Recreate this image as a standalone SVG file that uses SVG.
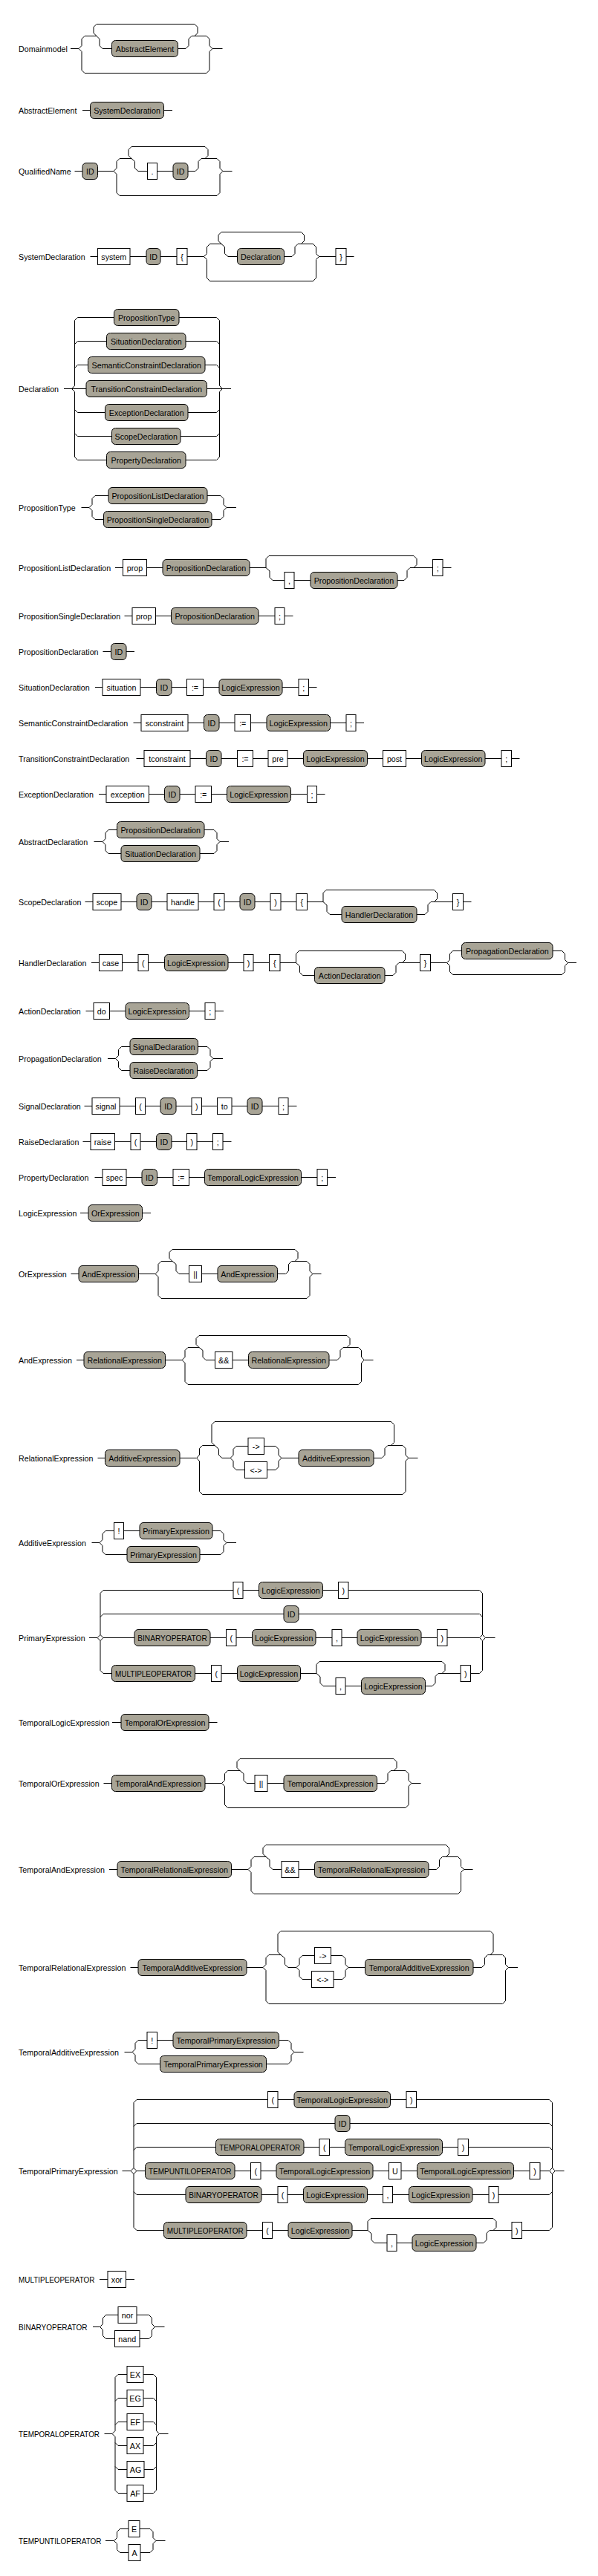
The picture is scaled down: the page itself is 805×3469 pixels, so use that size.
<svg xmlns="http://www.w3.org/2000/svg" width="805" height="3469" viewBox="0 0 805 3469">
<style>
#connectors path{fill:none;stroke:#000;stroke-width:1}
.r{fill:#a8a496;stroke:#000;stroke-width:1}
.t{fill:#fff;stroke:#000;stroke-width:1}
text{font-family:"Liberation Sans",Arial,sans-serif;font-size:10.7px;fill:#000;text-anchor:middle}
text.l{text-anchor:start}
</style>
<rect x="0" y="0" width="805" height="3469" fill="#fff"/>
<g id="connectors">
<path id="c-Domainmodel" d="M95,65.5H106 M106,65.5L110,61.5V52.5L114,48.5H130 M106,65.5L110,69.5V94.5L114,98.5H278L282,94.5V69.5L286,65.5H299.5 M262,48.5H278L282,52.5V61.5L286,65.5 M130,48.5L126,44.5V36.5L130,32.5H262L266,36.5V44.5L262,48.5 M130,48.5L134,52.5V61.5L138,65.5H150.5 M239.5,65.5H250L254,61.5V52.5L258,48.5H262"/>
<path id="c-AbstractElement" d="M111,148.5H121.5 M220.5,148.5H232"/>
<path id="c-QualifiedName" d="M100.5,230.5H111 M131.5,230.5H153 M153,230.5L157,226.5V217.5L161,213.5H177 M153,230.5L157,234.5V259.5L161,263.5H292L296,259.5V234.5L300,230.5H312.5 M271,213.5H292L296,217.5V226.5L300,230.5 M177,213.5L173,209.5V201.5L177,197.5H276L280,201.5V209.5L276,213.5 M177,213.5L181.5,217.5V226.5L186,230.5H198.5 M211.5,230.5H233 M253,230.5H263L267,226.5V217.5L271,213.5"/>
<path id="c-SystemDeclaration" d="M121.5,345.5H131.5 M175,345.5H197 M216,345.5H238 M252,345.5H274.5 M274.5,345.5L278.5,341.5V332.5L282.5,328.5H298 M274.5,345.5L278.5,349.5V374.5L282.5,378.5H421.5L425.5,374.5V349.5L429.5,345.5H452 M401,328.5H421.5L425.5,332.5V341.5L429.5,345.5 M298,328.5L294,324.5V316.5L298,312.5H405.5L409.5,316.5V324.5L405.5,328.5 M298,328.5L302.5,332.5V341.5L307,345.5H319.5 M382.5,345.5H393L397,341.5V332.5L401,328.5 M466,345.5H476.5"/>
<path id="c-Declaration" d="M86,523.5H116 M96.5,523.5L100.5,519.5V431.5L104.5,427.5H153.5 M100.5,463.5L104.5,459.5H143.5 M100.5,495.5L104.5,491.5H118.5 M96.5,523.5L100.5,527.5V615.5L104.5,619.5H143.5 M100.5,551.5L104.5,555.5H141.5 M100.5,583.5L104.5,587.5H150.5 M241,427.5H291.5L295.5,431.5V519.5L299.5,523.5 M250,459.5H291.5L295.5,463.5 M276,491.5H291.5L295.5,495.5 M278.5,523.5H311 M253,555.5H291.5L295.5,551.5 M243,587.5H291.5L295.5,583.5 M250,619.5H291.5L295.5,615.5V527.5L299.5,523.5"/>
<path id="c-PropositionType" d="M109.5,683.5H120 M120,683.5L124,679.5V671.5L128,667.5H146 M279,667.5H297L301,671.5V679.5L305,683.5H318 M120,683.5L124,687.5V695.5L128,699.5H139.5 M285,699.5H297L301,695.5V687.5L305,683.5"/>
<path id="c-PropositionListDeclaration" d="M155,764.5H165.5 M197.5,764.5H219 M336,764.5H358 M358,764.5V752.5L362,748.5H557L561,752.5V760.5L557,764.5 M358,764.5L363,769V777.5L367,781.5H383 M396,781.5H418 M535,781.5H544L548,777.5V768.5L552,764.5H582.5 M596,764.5H607.5"/>
<path id="c-PropositionSingleDeclaration" d="M167.5,829.5H178 M209.5,829.5H230.5 M348,829.5H370 M383,829.5H394.5"/>
<path id="c-PropositionDeclaration" d="M138.5,877.5H149.5 M170,877.5H181"/>
<path id="c-SituationDeclaration" d="M128,925.5H138 M189,925.5H210.5 M231,925.5H251.5 M273.5,925.5H295 M380,925.5H402 M415.5,925.5H426.5"/>
<path id="c-SemanticConstraintDeclaration" d="M179.5,973.5H190 M253,973.5H274.5 M295,973.5H316 M337.5,973.5H359 M444.5,973.5H466 M479,973.5H490"/>
<path id="c-TransitionConstraintDeclaration" d="M183.5,1021.5H194 M256,1021.5H277.5 M298,1021.5H319.5 M340.5,1021.5H361 M387,1021.5H408.5 M494.5,1021.5H515.5 M546.5,1021.5H567.5 M653,1021.5H675 M688.5,1021.5H699.5"/>
<path id="c-ExceptionDeclaration" d="M133,1069.5H143 M200.5,1069.5H221.5 M242,1069.5H263 M284.5,1069.5H305.5 M391.5,1069.5H413.5 M426.5,1069.5H437.5"/>
<path id="c-AbstractDeclaration" d="M126.5,1133.5H138 M138,1133.5L142,1129.5V1121.5L146,1117.5H157.5 M275,1117.5H288L292,1121.5V1129.5L296,1133.5H308 M138,1133.5L142,1137.5V1145.5L146,1149.5H163 M269,1149.5H288L292,1145.5V1137.5L296,1133.5"/>
<path id="c-ScopeDeclaration" d="M114.5,1214.5H125 M163,1214.5H184 M204,1214.5H225 M267,1214.5H288 M302,1214.5H323 M343,1214.5H364 M378,1214.5H399 M413.5,1214.5H435 M435,1214.5V1202.5L439,1198.5H584.5L588.5,1202.5V1210.5L584.5,1214.5 M435,1214.5L440,1219V1227.5L444,1231.5H460 M561,1231.5H572L576,1227.5V1218.5L580,1214.5H609.5 M623.5,1214.5H634.5"/>
<path id="c-HandlerDeclaration" d="M123,1296.5H133.5 M164.5,1296.5H186 M199.5,1296.5H221.5 M307,1296.5H328 M341,1296.5H362.5 M377,1296.5H398.5 M398.5,1296.5V1284.5L402.5,1280.5H541.5L545.5,1284.5V1292.5L541.5,1296.5 M398.5,1296.5L403.5,1301V1309.5L407.5,1313.5H423.5 M518,1313.5H529L533,1309.5V1300.5L537,1296.5H565.5 M579.5,1296.5H601.5 M601.5,1296.5L605.5,1292.5V1284.5L609.5,1280.5H621.5 M744,1280.5H756.5L760.5,1284.5V1292.5L764.5,1296.5H776 M601.5,1296.5L605.5,1300.5V1308.5L609.5,1312.5H756.5L760.5,1308.5V1300.5L764.5,1296.5"/>
<path id="c-ActionDeclaration" d="M115.5,1361.5H126 M147.5,1361.5H169 M254.5,1361.5H276 M289.5,1361.5H301"/>
<path id="c-PropagationDeclaration" d="M145,1425.5H155.5 M155.5,1425.5L159.5,1421.5V1413.5L163.5,1409.5H175 M266.5,1409.5H279L283,1413.5V1421.5L287,1425.5H300 M155.5,1425.5L159.5,1429.5V1437.5L163.5,1441.5H175 M265.5,1441.5H279L283,1437.5V1429.5L287,1425.5"/>
<path id="c-SignalDeclaration" d="M113.5,1489.5H124 M161,1489.5H182.5 M195.5,1489.5H216 M237,1489.5H258 M271.5,1489.5H292.5 M312,1489.5H333 M353,1489.5H375 M388,1489.5H399.5"/>
<path id="c-RaiseDeclaration" d="M111.5,1537.5H122 M154.5,1537.5H176 M189,1537.5H210.5 M231,1537.5H251.5 M265,1537.5H286.5 M300,1537.5H311.5"/>
<path id="c-PropertyDeclaration" d="M127.5,1585.5H138 M170,1585.5H191 M211.5,1585.5H233 M254.5,1585.5H275.5 M405.5,1585.5H427 M440.5,1585.5H452"/>
<path id="c-LogicExpression" d="M108,1633.5H119 M191.5,1633.5H203"/>
<path id="c-OrExpression" d="M95.5,1715.5H106 M186.5,1715.5H209 M209,1715.5L213,1711.5V1702.5L217,1698.5H232 M209,1715.5L213,1719.5V1744.5L217,1748.5H413L417,1744.5V1719.5L421,1715.5H432.5 M392.5,1698.5H413L417,1702.5V1711.5L421,1715.5 M232,1698.5L228,1694.5V1686.5L232,1682.5H397L401,1686.5V1694.5L397,1698.5 M232,1698.5L237,1702.5V1711.5L241,1715.5H254.5 M271.5,1715.5H293 M373.5,1715.5H384.5L388.5,1711.5V1702.5L392.5,1698.5"/>
<path id="c-AndExpression" d="M103,1831.5H113 M222.5,1831.5H245 M245,1831.5L249,1827.5V1818.5L253,1814.5H268 M245,1831.5L249,1835.5V1860.5L253,1864.5H482.5L486.5,1860.5V1835.5L490.5,1831.5H502.5 M462,1814.5H482.5L486.5,1818.5V1827.5L490.5,1831.5 M268,1814.5L264,1810.5V1802.5L268,1798.5H467L471,1802.5V1810.5L467,1814.5 M268,1814.5L273,1818.5V1827.5L277,1831.5H289.5 M313,1831.5H334.5 M443,1831.5H454L458,1827.5V1818.5L462,1814.5"/>
<path id="c-RelationalExpression" d="M131.5,1963.5H141.5 M242,1963.5H264.5 M264.5,1963.5L268.5,1959.5V1950.5L272.5,1946.5H289 M264.5,1963.5L268.5,1967.5V2008.5L272.5,2012.5H542L546,2008.5V1967.5L550,1963.5H562.5 M522,1946.5H542L546,1950.5V1959.5L550,1963.5 M289,1946.5L285,1942.5V1918.5L289,1914.5H526.5L530.5,1918.5V1942.5L526.5,1946.5 M289,1946.5L294.5,1951.5V1959.5L299,1963.5H310 M310,1963.5L314,1959.5V1951.5L318,1947.5H334 M355.5,1947.5H371L375,1951.5V1959.5L379,1963.5 M310,1963.5L314,1967.5V1975.5L318,1979.5H329.5 M359.5,1979.5H371L375,1975.5V1967.5L379,1963.5 M379,1963.5H402 M503,1963.5H514L518,1959.5V1950.5L522,1946.5"/>
<path id="c-AdditiveExpression" d="M123.5,2077.5H134 M134,2077.5L138,2073.5V2065.5L142,2061.5H153.5 M166.5,2061.5H188 M286,2061.5H297L301,2065.5V2073.5L305,2077.5H318 M134,2077.5L138,2081.5V2089.5L142,2093.5H171 M269,2093.5H297L301,2089.5V2081.5L305,2077.5"/>
<path id="c-PrimaryExpression" d="M120,2205.5H131 M131,2205.5L135,2201.5V2145.5L139,2141.5H314 M135,2177.5L139,2173.5H382 M135,2201.5L139,2205.5L135,2209.5 M131,2205.5L135,2209.5V2249.5L139,2253.5H150.5 M139,2205.5H181 M469,2141.5H645.5L649.5,2145.5V2201.5L653.5,2205.5 M402,2173.5H645.5L649.5,2177.5 M602,2205.5H645.5 M649.5,2201.5L645.5,2205.5L649.5,2209.5 M633.5,2253.5H645.5L649.5,2249.5V2209.5L653.5,2205.5H666.5 M327,2141.5H348.5 M434.5,2141.5H455.5 M283,2205.5H304.5 M318,2205.5H339.5 M425,2205.5H447 M460,2205.5H481 M567,2205.5H588.5 M262.5,2253.5H284.5 M298,2253.5H319.5 M404.5,2253.5H426 M426,2253.5V2241.5L430,2237.5H595L599,2241.5V2249.5L595,2253.5 M426,2253.5L431,2258V2266.5L435,2270.5H452 M465,2270.5H486.5 M572.5,2270.5H582L586,2266.5V2257.5L590,2253.5H620"/>
<path id="c-TemporalLogicExpression" d="M151,2319.5H163 M281,2319.5H292.5"/>
<path id="c-TemporalOrExpression" d="M139.5,2401.5H150.5 M276,2401.5H298.5 M298.5,2401.5L302.5,2397.5V2388.5L306.5,2384.5H323 M298.5,2401.5L302.5,2405.5V2430.5L306.5,2434.5H546L550,2430.5V2405.5L554,2401.5H566.5 M526,2384.5H546L550,2388.5V2397.5L554,2401.5 M323,2384.5L319,2380.5V2372.5L323,2368.5H530L534,2372.5V2380.5L530,2384.5 M323,2384.5L328,2388.5V2397.5L332,2401.5H343 M360,2401.5H382 M507.5,2401.5H518L522,2397.5V2388.5L526,2384.5"/>
<path id="c-TemporalAndExpression" d="M147,2517.5H158 M311.5,2517.5H334 M334,2517.5L338,2513.5V2504.5L342,2500.5H358 M334,2517.5L338,2521.5V2546.5L342,2550.5H616.5L620.5,2546.5V2521.5L624.5,2517.5H636.5 M595.5,2500.5H616.5L620.5,2504.5V2513.5L624.5,2517.5 M358,2500.5L354,2496.5V2488.5L358,2484.5H600.5L604.5,2488.5V2496.5L600.5,2500.5 M358,2500.5L363,2504.5V2513.5L367,2517.5H379 M402,2517.5H423.5 M577,2517.5H587.5L591.5,2513.5V2504.5L595.5,2500.5"/>
<path id="c-TemporalRelationalExpression" d="M175.5,2649.5H186 M332,2649.5H354 M354,2649.5L358,2645.5V2636.5L362,2632.5H378 M354,2649.5L358,2653.5V2694.5L362,2698.5H676.5L680.5,2694.5V2653.5L684.5,2649.5H697 M656.5,2632.5H676.5L680.5,2636.5V2645.5L684.5,2649.5 M378,2632.5L374,2628.5V2604.5L378,2600.5H660L664,2604.5V2628.5L660,2632.5 M378,2632.5L383.5,2637V2645.5L388,2649.5H399 M399,2649.5L403,2645.5V2637.5L407,2633.5H423.5 M445.5,2633.5H461L465,2637.5V2645.5L469,2649.5 M399,2649.5L403,2653.5V2661.5L407,2665.5H419.5 M449,2665.5H461L465,2661.5V2653.5L469,2649.5 M469,2649.5H491.5 M637,2649.5H648.5L652.5,2645.5V2636.5L656.5,2632.5"/>
<path id="c-TemporalAdditiveExpression" d="M167.5,2763.5H178 M178,2763.5L182,2759.5V2751.5L186,2747.5H198 M211.5,2747.5H233 M375.5,2747.5H388L392,2751.5V2759.5L396,2763.5H408.5 M178,2763.5L182,2767.5V2775.5L186,2779.5H215.5 M358.5,2779.5H388L392,2775.5V2767.5L396,2763.5"/>
<path id="c-TemporalPrimaryExpression" d="M164.5,2923.5H176 M176,2923.5L180,2919.5V2831.5L184,2827.5H360.5 M180,2863.5L184,2859.5H451 M180,2895.5L184,2891.5H290.5 M180,2919.5L184,2923.5L180,2927.5 M184,2923.5H195.5 M176,2923.5L180,2927.5V2999.5L184,3003.5H220.5 M180,2951.5L184,2955.5H250 M560.5,2827.5H739.5L743.5,2831.5V2919.5L747.5,2923.5 M471,2859.5H739.5L743.5,2863.5 M630.5,2891.5H739.5L743.5,2895.5 M743.5,2919.5L739.5,2923.5L743.5,2927.5 M727,2923.5H739.5 M702.5,3003.5H739.5L743.5,2999.5V2927.5L747.5,2923.5H759.5 M671,2955.5H739.5L743.5,2951.5 M374,2827.5H396 M525.5,2827.5H547 M409,2891.5H430 M443.5,2891.5H464.5 M595.5,2891.5H616.5 M316,2923.5H337.5 M351,2923.5H372 M502,2923.5H523.5 M540,2923.5H561.5 M691.5,2923.5H713 M352,2955.5H374 M387,2955.5H408.5 M494.5,2955.5H515.5 M528.5,2955.5H550.5 M636,2955.5H658 M332,3003.5H353.5 M366.5,3003.5H388 M474,3003.5H495 M495,3003.5V2991.5L499,2987.5H664L668,2991.5V2999.5L664,3003.5 M495,3003.5L500,3008V3016.5L504,3020.5H521 M534,3020.5H555 M641,3020.5H651L655,3016.5V3007.5L659,3003.5H689"/>
<path id="c-MULTIPLEOPERATOR" d="M134,3069.5H145 M169.5,3069.5H181"/>
<path id="c-BINARYOPERATOR" d="M125,3133.5H134.5 M134.5,3133.5L138.5,3129.5V3121.5L142.5,3117.5H159 M184,3117.5H200.5L204.5,3121.5V3129.5L208.5,3133.5H221.5 M134.5,3133.5L138.5,3137.5V3145.5L142.5,3149.5H154.5 M188,3149.5H200.5L204.5,3145.5V3137.5L208.5,3133.5"/>
<path id="c-TEMPORALOPERATOR" d="M140.5,3277.5H151 M151,3277.5L155,3273.5V3201.5L159,3197.5H171 M155,3233.5L159,3229.5H171 M155,3265.5L159,3261.5H171 M151,3277.5L155,3281.5V3353.5L159,3357.5H171 M155,3289.5L159,3293.5H171 M155,3321.5L159,3325.5H171 M193,3197.5H206.5L210.5,3201.5V3273.5L214.5,3277.5H226.5 M193,3229.5H206.5L210.5,3233.5 M193,3261.5H206.5L210.5,3265.5 M193,3357.5H206.5L210.5,3353.5V3281.5L214.5,3277.5 M193,3293.5H206.5L210.5,3289.5 M194,3325.5H206.5L210.5,3321.5"/>
<path id="c-TEMPUNTILOPERATOR" d="M142,3421.5H153.5 M153.5,3421.5L157.5,3417.5V3409.5L161.5,3405.5H173 M188,3405.5H202L206,3409.5V3417.5L210,3421.5H222.5 M153.5,3421.5L157.5,3425.5V3433.5L161.5,3437.5H173 M189,3437.5H202L206,3433.5V3425.5L210,3421.5"/>
</g>

<g id="Domainmodel"><text class="l" x="25" y="69.5">Domainmodel</text>
<g id="dm-1"><rect class="r" x="150.5" y="54.5" width="89" height="22" rx="5"/><text x="195" y="69.5">AbstractElement</text></g></g>

<g id="AbstractElement"><text class="l" x="25" y="152.5">AbstractElement</text>
<g id="ae-1"><rect class="r" x="121.5" y="137.5" width="99" height="22" rx="5"/><text x="171" y="152.5">SystemDeclaration</text></g></g>

<g id="QualifiedName"><text class="l" x="25" y="234.5">QualifiedName</text>
<g id="qn-1"><rect class="r" x="111" y="219.5" width="20.5" height="22" rx="5"/><text x="121.25" y="234.5">ID</text></g>
<g id="qn-2"><rect class="t" x="198.5" y="219.5" width="13" height="22"/><text x="205" y="234.5">.</text></g>
<g id="qn-3"><rect class="r" x="233" y="219.5" width="20" height="22" rx="5"/><text x="243" y="234.5">ID</text></g></g>

<g id="SystemDeclaration"><text class="l" x="25" y="349.5">SystemDeclaration</text>
<g id="sd-1"><rect class="t" x="131.5" y="334.5" width="43.5" height="22"/><text x="153.25" y="349.5">system</text></g>
<g id="sd-2"><rect class="r" x="197" y="334.5" width="19" height="22" rx="5"/><text x="206.5" y="349.5">ID</text></g>
<g id="sd-3"><rect class="t" x="238" y="334.5" width="14" height="22"/><text x="245" y="349.5">{</text></g>
<g id="sd-4"><rect class="r" x="319.5" y="334.5" width="63" height="22" rx="5"/><text x="351" y="349.5">Declaration</text></g>
<g id="sd-5"><rect class="t" x="452" y="334.5" width="14" height="22"/><text x="459" y="349.5">}</text></g></g>

<g id="Declaration"><text class="l" x="25" y="527.5">Declaration</text>
<g id="de-1"><rect class="r" x="153.5" y="416.5" width="87.5" height="22" rx="5"/><text x="197.25" y="431.5">PropositionType</text></g>
<g id="de-2"><rect class="r" x="143.5" y="448.5" width="106.5" height="22" rx="5"/><text x="196.75" y="463.5">SituationDeclaration</text></g>
<g id="de-3"><rect class="r" x="118.5" y="480.5" width="157.5" height="22" rx="5"/><text x="197.25" y="495.5">SemanticConstraintDeclaration</text></g>
<g id="de-4"><rect class="r" x="116" y="512.5" width="162.5" height="22" rx="5"/><text x="197.25" y="527.5">TransitionConstraintDeclaration</text></g>
<g id="de-5"><rect class="r" x="141.5" y="544.5" width="111.5" height="22" rx="5"/><text x="197.25" y="559.5">ExceptionDeclaration</text></g>
<g id="de-6"><rect class="r" x="150.5" y="576.5" width="92.5" height="22" rx="5"/><text x="196.75" y="591.5">ScopeDeclaration</text></g>
<g id="de-7"><rect class="r" x="143.5" y="608.5" width="106.5" height="22" rx="5"/><text x="196.75" y="623.5">PropertyDeclaration</text></g></g>

<g id="PropositionType"><text class="l" x="25" y="687.5">PropositionType</text>
<g id="pt-1"><rect class="r" x="146" y="656.5" width="133" height="22" rx="5"/><text x="212.5" y="671.5">PropositionListDeclaration</text></g>
<g id="pt-2"><rect class="r" x="139.5" y="688.5" width="145.5" height="22" rx="5"/><text x="212.25" y="703.5">PropositionSingleDeclaration</text></g></g>

<g id="PropositionListDeclaration"><text class="l" x="25" y="768.5">PropositionListDeclaration</text>
<g id="pl-1"><rect class="t" x="165.5" y="753.5" width="32" height="22"/><text x="181.5" y="768.5">prop</text></g>
<g id="pl-2"><rect class="r" x="219" y="753.5" width="117" height="22" rx="5"/><text x="277.5" y="768.5">PropositionDeclaration</text></g>
<g id="pl-3"><rect class="t" x="383" y="770.5" width="13" height="22"/><text x="389.5" y="785.5">,</text></g>
<g id="pl-4"><rect class="r" x="418" y="770.5" width="117" height="22" rx="5"/><text x="476.5" y="785.5">PropositionDeclaration</text></g>
<g id="pl-5"><rect class="t" x="582.5" y="753.5" width="13.5" height="22"/><text x="589.25" y="768.5">;</text></g></g>

<g id="PropositionSingleDeclaration"><text class="l" x="25" y="833.5">PropositionSingleDeclaration</text>
<g id="ps-1"><rect class="t" x="178" y="818.5" width="31.5" height="22"/><text x="193.75" y="833.5">prop</text></g>
<g id="ps-2"><rect class="r" x="230.5" y="818.5" width="117.5" height="22" rx="5"/><text x="289.25" y="833.5">PropositionDeclaration</text></g>
<g id="ps-3"><rect class="t" x="370" y="818.5" width="13" height="22"/><text x="376.5" y="833.5">;</text></g></g>

<g id="PropositionDeclaration"><text class="l" x="25" y="881.5">PropositionDeclaration</text>
<g id="pd-1"><rect class="r" x="149.5" y="866.5" width="20.5" height="22" rx="5"/><text x="159.75" y="881.5">ID</text></g></g>

<g id="SituationDeclaration"><text class="l" x="25" y="929.5">SituationDeclaration</text>
<g id="si-1"><rect class="t" x="138" y="914.5" width="51" height="22"/><text x="163.5" y="929.5">situation</text></g>
<g id="si-2"><rect class="r" x="210.5" y="914.5" width="20.5" height="22" rx="5"/><text x="220.75" y="929.5">ID</text></g>
<g id="si-3"><rect class="t" x="251.5" y="914.5" width="22" height="22"/><text x="262.5" y="929.5">:=</text></g>
<g id="si-4"><rect class="r" x="295" y="914.5" width="85" height="22" rx="5"/><text x="337.5" y="929.5">LogicExpression</text></g>
<g id="si-5"><rect class="t" x="402" y="914.5" width="13.5" height="22"/><text x="408.75" y="929.5">;</text></g></g>

<g id="SemanticConstraintDeclaration"><text class="l" x="25" y="977.5">SemanticConstraintDeclaration</text>
<g id="sc-1"><rect class="t" x="190" y="962.5" width="63" height="22"/><text x="221.5" y="977.5">sconstraint</text></g>
<g id="sc-2"><rect class="r" x="274.5" y="962.5" width="20.5" height="22" rx="5"/><text x="284.75" y="977.5">ID</text></g>
<g id="sc-3"><rect class="t" x="316" y="962.5" width="21.5" height="22"/><text x="326.75" y="977.5">:=</text></g>
<g id="sc-4"><rect class="r" x="359" y="962.5" width="85.5" height="22" rx="5"/><text x="401.75" y="977.5">LogicExpression</text></g>
<g id="sc-5"><rect class="t" x="466" y="962.5" width="13" height="22"/><text x="472.5" y="977.5">;</text></g></g>

<g id="TransitionConstraintDeclaration"><text class="l" x="25" y="1025.5">TransitionConstraintDeclaration</text>
<g id="tc-1"><rect class="t" x="194" y="1010.5" width="62" height="22"/><text x="225" y="1025.5">tconstraint</text></g>
<g id="tc-2"><rect class="r" x="277.5" y="1010.5" width="20.5" height="22" rx="5"/><text x="287.75" y="1025.5">ID</text></g>
<g id="tc-3"><rect class="t" x="319.5" y="1010.5" width="21" height="22"/><text x="330" y="1025.5">:=</text></g>
<g id="tc-4"><rect class="t" x="361" y="1010.5" width="26" height="22"/><text x="374" y="1025.5">pre</text></g>
<g id="tc-5"><rect class="r" x="408.5" y="1010.5" width="86" height="22" rx="5"/><text x="451.5" y="1025.5">LogicExpression</text></g>
<g id="tc-6"><rect class="t" x="515.5" y="1010.5" width="31" height="22"/><text x="531" y="1025.5">post</text></g>
<g id="tc-7"><rect class="r" x="567.5" y="1010.5" width="85.5" height="22" rx="5"/><text x="610.25" y="1025.5">LogicExpression</text></g>
<g id="tc-8"><rect class="t" x="675" y="1010.5" width="13.5" height="22"/><text x="681.75" y="1025.5">;</text></g></g>

<g id="ExceptionDeclaration"><text class="l" x="25" y="1073.5">ExceptionDeclaration</text>
<g id="ex-1"><rect class="t" x="143" y="1058.5" width="57.5" height="22"/><text x="171.75" y="1073.5">exception</text></g>
<g id="ex-2"><rect class="r" x="221.5" y="1058.5" width="20.5" height="22" rx="5"/><text x="231.75" y="1073.5">ID</text></g>
<g id="ex-3"><rect class="t" x="263" y="1058.5" width="21.5" height="22"/><text x="273.75" y="1073.5">:=</text></g>
<g id="ex-4"><rect class="r" x="305.5" y="1058.5" width="86" height="22" rx="5"/><text x="348.5" y="1073.5">LogicExpression</text></g>
<g id="ex-5"><rect class="t" x="413.5" y="1058.5" width="13" height="22"/><text x="420" y="1073.5">;</text></g></g>

<g id="AbstractDeclaration"><text class="l" x="25" y="1137.5">AbstractDeclaration</text>
<g id="ad-1"><rect class="r" x="157.5" y="1106.5" width="117.5" height="22" rx="5"/><text x="216.25" y="1121.5">PropositionDeclaration</text></g>
<g id="ad-2"><rect class="r" x="163" y="1138.5" width="106" height="22" rx="5"/><text x="216" y="1153.5">SituationDeclaration</text></g></g>

<g id="ScopeDeclaration"><text class="l" x="25" y="1218.5">ScopeDeclaration</text>
<g id="sp-1"><rect class="t" x="125" y="1203.5" width="38" height="22"/><text x="144" y="1218.5">scope</text></g>
<g id="sp-2"><rect class="r" x="184" y="1203.5" width="20" height="22" rx="5"/><text x="194" y="1218.5">ID</text></g>
<g id="sp-3"><rect class="t" x="225" y="1203.5" width="42" height="22"/><text x="246" y="1218.5">handle</text></g>
<g id="sp-4"><rect class="t" x="288" y="1203.5" width="14" height="22"/><text x="295" y="1218.5">(</text></g>
<g id="sp-5"><rect class="r" x="323" y="1203.5" width="20" height="22" rx="5"/><text x="333" y="1218.5">ID</text></g>
<g id="sp-6"><rect class="t" x="364" y="1203.5" width="14" height="22"/><text x="371" y="1218.5">)</text></g>
<g id="sp-7"><rect class="t" x="399" y="1203.5" width="14.5" height="22"/><text x="406.25" y="1218.5">{</text></g>
<g id="sp-8"><rect class="r" x="460" y="1220.5" width="101" height="22" rx="5"/><text x="510.5" y="1235.5">HandlerDeclaration</text></g>
<g id="sp-9"><rect class="t" x="609.5" y="1203.5" width="14" height="22"/><text x="616.5" y="1218.5">}</text></g></g>

<g id="HandlerDeclaration"><text class="l" x="25" y="1300.5">HandlerDeclaration</text>
<g id="hd-1"><rect class="t" x="133.5" y="1285.5" width="31" height="22"/><text x="149" y="1300.5">case</text></g>
<g id="hd-2"><rect class="t" x="186" y="1285.5" width="13.5" height="22"/><text x="192.75" y="1300.5">(</text></g>
<g id="hd-3"><rect class="r" x="221.5" y="1285.5" width="85.5" height="22" rx="5"/><text x="264.25" y="1300.5">LogicExpression</text></g>
<g id="hd-4"><rect class="t" x="328" y="1285.5" width="13" height="22"/><text x="334.5" y="1300.5">)</text></g>
<g id="hd-5"><rect class="t" x="362.5" y="1285.5" width="14.5" height="22"/><text x="369.75" y="1300.5">{</text></g>
<g id="hd-6"><rect class="r" x="423.5" y="1302.5" width="94.5" height="22" rx="5"/><text x="470.75" y="1317.5">ActionDeclaration</text></g>
<g id="hd-7"><rect class="t" x="565.5" y="1285.5" width="14" height="22"/><text x="572.5" y="1300.5">}</text></g>
<g id="hd-8"><rect class="r" x="621.5" y="1269.5" width="122.5" height="22" rx="5"/><text x="682.75" y="1284.5">PropagationDeclaration</text></g></g>

<g id="ActionDeclaration"><text class="l" x="25" y="1365.5">ActionDeclaration</text>
<g id="ac-1"><rect class="t" x="126" y="1350.5" width="21.5" height="22"/><text x="136.75" y="1365.5">do</text></g>
<g id="ac-2"><rect class="r" x="169" y="1350.5" width="85.5" height="22" rx="5"/><text x="211.75" y="1365.5">LogicExpression</text></g>
<g id="ac-3"><rect class="t" x="276" y="1350.5" width="13.5" height="22"/><text x="282.75" y="1365.5">;</text></g></g>

<g id="PropagationDeclaration"><text class="l" x="25" y="1429.5">PropagationDeclaration</text>
<g id="pg-1"><rect class="r" x="175" y="1398.5" width="91.5" height="22" rx="5"/><text x="220.75" y="1413.5">SignalDeclaration</text></g>
<g id="pg-2"><rect class="r" x="175" y="1430.5" width="90.5" height="22" rx="5"/><text x="220.25" y="1445.5">RaiseDeclaration</text></g></g>

<g id="SignalDeclaration"><text class="l" x="25" y="1493.5">SignalDeclaration</text>
<g id="sg-1"><rect class="t" x="124" y="1478.5" width="37" height="22"/><text x="142.5" y="1493.5">signal</text></g>
<g id="sg-2"><rect class="t" x="182.5" y="1478.5" width="13" height="22"/><text x="189" y="1493.5">(</text></g>
<g id="sg-3"><rect class="r" x="216" y="1478.5" width="21" height="22" rx="5"/><text x="226.5" y="1493.5">ID</text></g>
<g id="sg-4"><rect class="t" x="258" y="1478.5" width="13.5" height="22"/><text x="264.75" y="1493.5">)</text></g>
<g id="sg-5"><rect class="t" x="292.5" y="1478.5" width="19.5" height="22"/><text x="302.25" y="1493.5">to</text></g>
<g id="sg-6"><rect class="r" x="333" y="1478.5" width="20" height="22" rx="5"/><text x="343" y="1493.5">ID</text></g>
<g id="sg-7"><rect class="t" x="375" y="1478.5" width="13" height="22"/><text x="381.5" y="1493.5">;</text></g></g>

<g id="RaiseDeclaration"><text class="l" x="25" y="1541.5">RaiseDeclaration</text>
<g id="rd-1"><rect class="t" x="122" y="1526.5" width="32.5" height="22"/><text x="138.25" y="1541.5">raise</text></g>
<g id="rd-2"><rect class="t" x="176" y="1526.5" width="13" height="22"/><text x="182.5" y="1541.5">(</text></g>
<g id="rd-3"><rect class="r" x="210.5" y="1526.5" width="20.5" height="22" rx="5"/><text x="220.75" y="1541.5">ID</text></g>
<g id="rd-4"><rect class="t" x="251.5" y="1526.5" width="13.5" height="22"/><text x="258.25" y="1541.5">)</text></g>
<g id="rd-5"><rect class="t" x="286.5" y="1526.5" width="13.5" height="22"/><text x="293.25" y="1541.5">;</text></g></g>

<g id="PropertyDeclaration"><text class="l" x="25" y="1589.5">PropertyDeclaration</text>
<g id="pr-1"><rect class="t" x="138" y="1574.5" width="32" height="22"/><text x="154" y="1589.5">spec</text></g>
<g id="pr-2"><rect class="r" x="191" y="1574.5" width="20.5" height="22" rx="5"/><text x="201.25" y="1589.5">ID</text></g>
<g id="pr-3"><rect class="t" x="233" y="1574.5" width="21.5" height="22"/><text x="243.75" y="1589.5">:=</text></g>
<g id="pr-4"><rect class="r" x="275.5" y="1574.5" width="130" height="22" rx="5"/><text x="340.5" y="1589.5">TemporalLogicExpression</text></g>
<g id="pr-5"><rect class="t" x="427" y="1574.5" width="13.5" height="22"/><text x="433.75" y="1589.5">;</text></g></g>

<g id="LogicExpression"><text class="l" x="25" y="1637.5">LogicExpression</text>
<g id="le-1"><rect class="r" x="119" y="1622.5" width="72.5" height="22" rx="5"/><text x="155.25" y="1637.5">OrExpression</text></g></g>

<g id="OrExpression"><text class="l" x="25" y="1719.5">OrExpression</text>
<g id="oe-1"><rect class="r" x="106" y="1704.5" width="80.5" height="22" rx="5"/><text x="146.25" y="1719.5">AndExpression</text></g>
<g id="oe-2"><rect class="t" x="254.5" y="1704.5" width="17" height="22"/><text x="263" y="1719.5">||</text></g>
<g id="oe-3"><rect class="r" x="293" y="1704.5" width="80.5" height="22" rx="5"/><text x="333.25" y="1719.5">AndExpression</text></g></g>

<g id="AndExpression"><text class="l" x="25" y="1835.5">AndExpression</text>
<g id="an-1"><rect class="r" x="113" y="1820.5" width="109.5" height="22" rx="5"/><text x="167.75" y="1835.5">RelationalExpression</text></g>
<g id="an-2"><rect class="t" x="289.5" y="1820.5" width="23.5" height="22"/><text x="301.25" y="1835.5">&amp;&amp;</text></g>
<g id="an-3"><rect class="r" x="334.5" y="1820.5" width="108.5" height="22" rx="5"/><text x="388.75" y="1835.5">RelationalExpression</text></g></g>

<g id="RelationalExpression"><text class="l" x="25" y="1967.5">RelationalExpression</text>
<g id="re-1"><rect class="r" x="141.5" y="1952.5" width="100.5" height="22" rx="5"/><text x="191.75" y="1967.5">AdditiveExpression</text></g>
<g id="re-2"><rect class="t" x="334" y="1936.5" width="21.5" height="22"/><text x="344.75" y="1951.5">-&gt;</text></g>
<g id="re-3"><rect class="t" x="329.5" y="1968.5" width="30" height="22"/><text x="344.5" y="1983.5">&lt;-&gt;</text></g>
<g id="re-4"><rect class="r" x="402" y="1952.5" width="101" height="22" rx="5"/><text x="452.5" y="1967.5">AdditiveExpression</text></g></g>

<g id="AdditiveExpression"><text class="l" x="25" y="2081.5">AdditiveExpression</text>
<g id="ax-1"><rect class="t" x="153.5" y="2050.5" width="13" height="22"/><text x="160" y="2065.5">!</text></g>
<g id="ax-2"><rect class="r" x="188" y="2050.5" width="98" height="22" rx="5"/><text x="237" y="2065.5">PrimaryExpression</text></g>
<g id="ax-3"><rect class="r" x="171" y="2082.5" width="98" height="22" rx="5"/><text x="220" y="2097.5">PrimaryExpression</text></g></g>

<g id="PrimaryExpression"><text class="l" x="25" y="2209.5">PrimaryExpression</text>
<g id="px-1"><rect class="t" x="314" y="2130.5" width="13" height="22"/><text x="320.5" y="2145.5">(</text></g>
<g id="px-2"><rect class="r" x="348.5" y="2130.5" width="86" height="22" rx="5"/><text x="391.5" y="2145.5">LogicExpression</text></g>
<g id="px-3"><rect class="t" x="455.5" y="2130.5" width="13.5" height="22"/><text x="462.25" y="2145.5">)</text></g>
<g id="px-4"><rect class="r" x="382" y="2162.5" width="20" height="22" rx="5"/><text x="392" y="2177.5">ID</text></g>
<g id="px-5"><rect class="r" x="181" y="2194.5" width="102" height="22" rx="5"/><text x="232" y="2209.5" textLength="93.5" lengthAdjust="spacingAndGlyphs">BINARYOPERATOR</text></g>
<g id="px-6"><rect class="t" x="304.5" y="2194.5" width="13.5" height="22"/><text x="311.25" y="2209.5">(</text></g>
<g id="px-7"><rect class="r" x="339.5" y="2194.5" width="85.5" height="22" rx="5"/><text x="382.25" y="2209.5">LogicExpression</text></g>
<g id="px-8"><rect class="t" x="447" y="2194.5" width="13" height="22"/><text x="453.5" y="2209.5">,</text></g>
<g id="px-9"><rect class="r" x="481" y="2194.5" width="86" height="22" rx="5"/><text x="524" y="2209.5">LogicExpression</text></g>
<g id="px-10"><rect class="t" x="588.5" y="2194.5" width="13.5" height="22"/><text x="595.25" y="2209.5">)</text></g>
<g id="px-11"><rect class="r" x="150.5" y="2242.5" width="112" height="22" rx="5"/><text x="206.5" y="2257.5" textLength="103" lengthAdjust="spacingAndGlyphs">MULTIPLEOPERATOR</text></g>
<g id="px-12"><rect class="t" x="284.5" y="2242.5" width="13.5" height="22"/><text x="291.25" y="2257.5">(</text></g>
<g id="px-13"><rect class="r" x="319.5" y="2242.5" width="85" height="22" rx="5"/><text x="362" y="2257.5">LogicExpression</text></g>
<g id="px-14"><rect class="t" x="452" y="2259.5" width="13" height="22"/><text x="458.5" y="2274.5">,</text></g>
<g id="px-15"><rect class="r" x="486.5" y="2259.5" width="86" height="22" rx="5"/><text x="529.5" y="2274.5">LogicExpression</text></g>
<g id="px-16"><rect class="t" x="620" y="2242.5" width="13.5" height="22"/><text x="626.75" y="2257.5">)</text></g></g>

<g id="TemporalLogicExpression"><text class="l" x="25" y="2323.5">TemporalLogicExpression</text>
<g id="tl-1"><rect class="r" x="163" y="2308.5" width="118" height="22" rx="5"/><text x="222" y="2323.5">TemporalOrExpression</text></g></g>

<g id="TemporalOrExpression"><text class="l" x="25" y="2405.5">TemporalOrExpression</text>
<g id="to-1"><rect class="r" x="150.5" y="2390.5" width="125.5" height="22" rx="5"/><text x="213.25" y="2405.5">TemporalAndExpression</text></g>
<g id="to-2"><rect class="t" x="343" y="2390.5" width="17" height="22"/><text x="351.5" y="2405.5">||</text></g>
<g id="to-3"><rect class="r" x="382" y="2390.5" width="125.5" height="22" rx="5"/><text x="444.75" y="2405.5">TemporalAndExpression</text></g></g>

<g id="TemporalAndExpression"><text class="l" x="25" y="2521.5">TemporalAndExpression</text>
<g id="ta-1"><rect class="r" x="158" y="2506.5" width="153.5" height="22" rx="5"/><text x="234.75" y="2521.5">TemporalRelationalExpression</text></g>
<g id="ta-2"><rect class="t" x="379" y="2506.5" width="23" height="22"/><text x="390.5" y="2521.5">&amp;&amp;</text></g>
<g id="ta-3"><rect class="r" x="423.5" y="2506.5" width="153.5" height="22" rx="5"/><text x="500.25" y="2521.5">TemporalRelationalExpression</text></g></g>

<g id="TemporalRelationalExpression"><text class="l" x="25" y="2653.5">TemporalRelationalExpression</text>
<g id="tr-1"><rect class="r" x="186" y="2638.5" width="146" height="22" rx="5"/><text x="259" y="2653.5">TemporalAdditiveExpression</text></g>
<g id="tr-2"><rect class="t" x="423.5" y="2622.5" width="22" height="22"/><text x="434.5" y="2637.5">-&gt;</text></g>
<g id="tr-3"><rect class="t" x="419.5" y="2654.5" width="29.5" height="22"/><text x="434.25" y="2669.5">&lt;-&gt;</text></g>
<g id="tr-4"><rect class="r" x="491.5" y="2638.5" width="145.5" height="22" rx="5"/><text x="564.25" y="2653.5">TemporalAdditiveExpression</text></g></g>

<g id="TemporalAdditiveExpression"><text class="l" x="25" y="2767.5">TemporalAdditiveExpression</text>
<g id="tx-1"><rect class="t" x="198" y="2736.5" width="13.5" height="22"/><text x="204.75" y="2751.5">!</text></g>
<g id="tx-2"><rect class="r" x="233" y="2736.5" width="142.5" height="22" rx="5"/><text x="304.25" y="2751.5">TemporalPrimaryExpression</text></g>
<g id="tx-3"><rect class="r" x="215.5" y="2768.5" width="143" height="22" rx="5"/><text x="287" y="2783.5">TemporalPrimaryExpression</text></g></g>

<g id="TemporalPrimaryExpression"><text class="l" x="25" y="2927.5">TemporalPrimaryExpression</text>
<g id="tp-1"><rect class="t" x="360.5" y="2816.5" width="13.5" height="22"/><text x="367.25" y="2831.5">(</text></g>
<g id="tp-2"><rect class="r" x="396" y="2816.5" width="129.5" height="22" rx="5"/><text x="460.75" y="2831.5">TemporalLogicExpression</text></g>
<g id="tp-3"><rect class="t" x="547" y="2816.5" width="13.5" height="22"/><text x="553.75" y="2831.5">)</text></g>
<g id="tp-4"><rect class="r" x="451" y="2848.5" width="20" height="22" rx="5"/><text x="461" y="2863.5">ID</text></g>
<g id="tp-5"><rect class="r" x="290.5" y="2880.5" width="118.5" height="22" rx="5"/><text x="349.75" y="2895.5" textLength="109" lengthAdjust="spacingAndGlyphs">TEMPORALOPERATOR</text></g>
<g id="tp-6"><rect class="t" x="430" y="2880.5" width="13.5" height="22"/><text x="436.75" y="2895.5">(</text></g>
<g id="tp-7"><rect class="r" x="464.5" y="2880.5" width="131" height="22" rx="5"/><text x="530" y="2895.5">TemporalLogicExpression</text></g>
<g id="tp-8"><rect class="t" x="616.5" y="2880.5" width="14" height="22"/><text x="623.5" y="2895.5">)</text></g>
<g id="tp-9"><rect class="r" x="195.5" y="2912.5" width="120.5" height="22" rx="5"/><text x="255.75" y="2927.5" textLength="111.5" lengthAdjust="spacingAndGlyphs">TEMPUNTILOPERATOR</text></g>
<g id="tp-10"><rect class="t" x="337.5" y="2912.5" width="13.5" height="22"/><text x="344.25" y="2927.5">(</text></g>
<g id="tp-11"><rect class="r" x="372" y="2912.5" width="130" height="22" rx="5"/><text x="437" y="2927.5">TemporalLogicExpression</text></g>
<g id="tp-12"><rect class="t" x="523.5" y="2912.5" width="16.5" height="22"/><text x="531.75" y="2927.5">U</text></g>
<g id="tp-13"><rect class="r" x="561.5" y="2912.5" width="130" height="22" rx="5"/><text x="626.5" y="2927.5">TemporalLogicExpression</text></g>
<g id="tp-14"><rect class="t" x="713" y="2912.5" width="14" height="22"/><text x="720" y="2927.5">)</text></g>
<g id="tp-15"><rect class="r" x="250" y="2944.5" width="102" height="22" rx="5"/><text x="301" y="2959.5" textLength="93.5" lengthAdjust="spacingAndGlyphs">BINARYOPERATOR</text></g>
<g id="tp-16"><rect class="t" x="374" y="2944.5" width="13" height="22"/><text x="380.5" y="2959.5">(</text></g>
<g id="tp-17"><rect class="r" x="408.5" y="2944.5" width="86" height="22" rx="5"/><text x="451.5" y="2959.5">LogicExpression</text></g>
<g id="tp-18"><rect class="t" x="515.5" y="2944.5" width="13" height="22"/><text x="522" y="2959.5">,</text></g>
<g id="tp-19"><rect class="r" x="550.5" y="2944.5" width="85.5" height="22" rx="5"/><text x="593.25" y="2959.5">LogicExpression</text></g>
<g id="tp-20"><rect class="t" x="658" y="2944.5" width="13" height="22"/><text x="664.5" y="2959.5">)</text></g>
<g id="tp-21"><rect class="r" x="220.5" y="2992.5" width="111.5" height="22" rx="5"/><text x="276.25" y="3007.5" textLength="103" lengthAdjust="spacingAndGlyphs">MULTIPLEOPERATOR</text></g>
<g id="tp-22"><rect class="t" x="353.5" y="2992.5" width="13" height="22"/><text x="360" y="3007.5">(</text></g>
<g id="tp-23"><rect class="r" x="388" y="2992.5" width="86" height="22" rx="5"/><text x="431" y="3007.5">LogicExpression</text></g>
<g id="tp-24"><rect class="t" x="521" y="3009.5" width="13" height="22"/><text x="527.5" y="3024.5">,</text></g>
<g id="tp-25"><rect class="r" x="555" y="3009.5" width="86" height="22" rx="5"/><text x="598" y="3024.5">LogicExpression</text></g>
<g id="tp-26"><rect class="t" x="689" y="2992.5" width="13.5" height="22"/><text x="695.75" y="3007.5">)</text></g></g>

<g id="MULTIPLEOPERATOR"><text class="l" x="25" y="3073.5" textLength="102.5" lengthAdjust="spacingAndGlyphs">MULTIPLEOPERATOR</text>
<g id="mo-1"><rect class="t" x="145" y="3058.5" width="24.5" height="22"/><text x="157.25" y="3073.5">xor</text></g></g>

<g id="BINARYOPERATOR"><text class="l" x="25" y="3137.5" textLength="92.5" lengthAdjust="spacingAndGlyphs">BINARYOPERATOR</text>
<g id="bo-1"><rect class="t" x="159" y="3106.5" width="25" height="22"/><text x="171.5" y="3121.5">nor</text></g>
<g id="bo-2"><rect class="t" x="154.5" y="3138.5" width="33.5" height="22"/><text x="171.25" y="3153.5">nand</text></g></g>

<g id="TEMPORALOPERATOR"><text class="l" x="25" y="3281.5" textLength="109" lengthAdjust="spacingAndGlyphs">TEMPORALOPERATOR</text>
<g id="tmo-1"><rect class="t" x="171" y="3186.5" width="22" height="22"/><text x="182" y="3201.5">EX</text></g>
<g id="tmo-2"><rect class="t" x="171" y="3218.5" width="22" height="22"/><text x="182" y="3233.5">EG</text></g>
<g id="tmo-3"><rect class="t" x="171" y="3250.5" width="22" height="22"/><text x="182" y="3265.5">EF</text></g>
<g id="tmo-4"><rect class="t" x="171" y="3282.5" width="22" height="22"/><text x="182" y="3297.5">AX</text></g>
<g id="tmo-5"><rect class="t" x="171" y="3314.5" width="23" height="22"/><text x="182.5" y="3329.5">AG</text></g>
<g id="tmo-6"><rect class="t" x="171" y="3346.5" width="22" height="22"/><text x="182" y="3361.5">AF</text></g></g>

<g id="TEMPUNTILOPERATOR"><text class="l" x="25" y="3425.5" textLength="111.5" lengthAdjust="spacingAndGlyphs">TEMPUNTILOPERATOR</text>
<g id="tuo-1"><rect class="t" x="173" y="3394.5" width="15" height="22"/><text x="180.5" y="3409.5">E</text></g>
<g id="tuo-2"><rect class="t" x="173" y="3426.5" width="16" height="22"/><text x="181" y="3441.5">A</text></g></g>
</svg>
